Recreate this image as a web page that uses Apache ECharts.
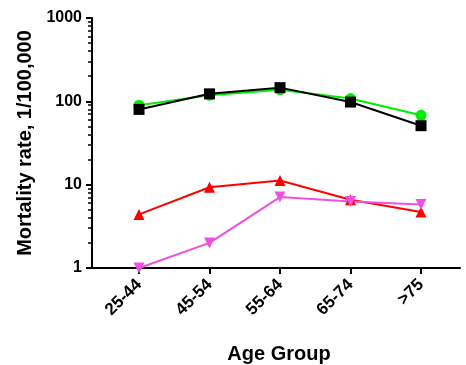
<!DOCTYPE html>
<html>
<head>
<meta charset="utf-8">
<script src="https://cdn.jsdelivr.net/npm/echarts@6/dist/echarts.min.js"></script>
<style>html,body{margin:0;padding:0;background:#fff}#c{width:466px;height:365px}</style>
</head>
<body>
<div id="c"></div>
<script>
var categories = ['25-44', '45-54', '55-64', '65-74', '>75'];
var greenCircle = [90, 118, 138, 108, 68];
var blackSquare = [80, 123, 146, 98, 51];
var redUp = [4.4, 9.3, 11.2, 6.6, 4.7];
var pinkDown = [1.0, 2.0, 7.1, 6.3, 5.8];
var yMajorTicks = [1, 10, 100, 1000];
var yMinorTicks = [2,3,4,5,6,7,8,9,20,30,40,50,60,70,80,90,200,300,400,500,600,700,800,900];

function pts(arr) { return arr.map(function (v, i) { return [i, v]; }); }
var font = 'Liberation Sans, Arial, sans-serif';

var chart = echarts.init(document.getElementById('c'), null, {renderer: 'canvas'});
chart.setOption({
  animation: false,
  grid: {left: 92, right: 6, top: 18, bottom: 97, containLabel: false, outerBoundsMode: 'none'},
  xAxis: {
    type: 'value', min: -0.667, max: 4.553,
    axisLine: {show: true, lineStyle: {color: '#000', width: 2}},
    axisTick: {show: true, inside: false, length: 6, lineStyle: {color: '#000', width: 2}, customValues: [0,1,2,3,4]},
    axisLabel: {customValues: [0,1,2,3,4], rotate: 45, fontSize: 17, fontWeight: 'bold', color: '#000', fontFamily: font, margin: 14,
      formatter: function (v) { return categories[Math.round(v)]; }},
    splitLine: {show: false},
    name: 'Age Group', nameLocation: 'middle', nameGap: 76,
    nameTextStyle: {fontSize: 20, fontWeight: 'bold', color: '#000', fontFamily: font, padding: [0, 0, 0, 6]}
  },
  yAxis: [{
    type: 'log', logBase: 10, min: 1, max: 1000,
    axisLine: {show: true, onZero: false, lineStyle: {color: '#000', width: 2}},
    axisTick: {show: true, inside: false, length: 6, lineStyle: {color: '#000', width: 2}, customValues: yMajorTicks},
    axisLabel: {customValues: yMajorTicks, fontSize: 16, fontWeight: 'bold', color: '#000', fontFamily: font, margin: 10,
      formatter: function (v) { return String(Math.round(v)); }},
    splitLine: {show: false},
    name: 'Mortality rate, 1/100,000', nameLocation: 'middle', nameGap: 56,
    nameTextStyle: {fontSize: 20, fontWeight: 'bold', color: '#000', fontFamily: font}
  }, {
    type: 'log', logBase: 10, min: 1, max: 1000, position: 'left', offset: 0,
    axisLine: {show: false, onZero: false},
    axisTick: {show: true, inside: false, length: 4, lineStyle: {color: '#000', width: 1.5}, customValues: yMinorTicks},
    axisLabel: {show: false},
    splitLine: {show: false}
  }],
  series: [
    {type: 'line', data: pts(greenCircle), symbol: 'circle', symbolSize: 11,
      lineStyle: {color: '#00ee00', width: 2}, itemStyle: {color: '#00ee00'}},
    {type: 'line', data: pts(blackSquare), symbol: 'rect', symbolSize: 11,
      lineStyle: {color: '#000', width: 2}, itemStyle: {color: '#000'}},
    {type: 'line', data: pts(redUp), symbol: 'triangle', symbolSize: 11,
      lineStyle: {color: '#ff0000', width: 2}, itemStyle: {color: '#ff0000'}},
    {type: 'line', data: pts(pinkDown), symbol: 'triangle', symbolRotate: 180, symbolSize: 11,
      lineStyle: {color: '#f050e0', width: 2}, itemStyle: {color: '#f050e0'}}
  ]
});
</script>
</body>
</html>
